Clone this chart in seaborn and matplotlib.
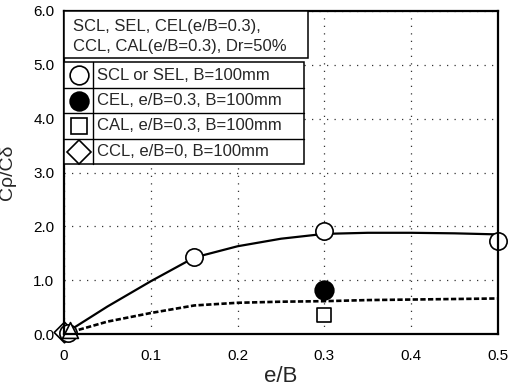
import matplotlib
matplotlib.use("Agg")
import matplotlib.pyplot as plt
from matplotlib.patches import Rectangle
import numpy as np
import pandas as pd
import seaborn as sns

# ---------------- data ----------------
scl_x = [0.005, 0.15, 0.30, 0.50]
scl_y = [0.02, 1.43, 1.92, 1.72]
cel_x = [0.30]
cel_y = [0.81]
cal_x = [0.30]
cal_y = [0.35]
ccl_x = [0.0]
ccl_y = [0.04]
tri_x = [0.007]
tri_y = [0.07]

fit_x = [0.0, 0.05, 0.10, 0.15, 0.20, 0.25, 0.30, 0.35, 0.40, 0.45, 0.50]
fit_solid_y = [0.0, 0.51, 0.98, 1.42, 1.63, 1.77, 1.86, 1.88, 1.88, 1.87, 1.85]
fit_dash_y = [0.0, 0.23, 0.39, 0.53, 0.58, 0.60, 0.61, 0.63, 0.64, 0.65, 0.66]

x_ticks = [0.0, 0.1, 0.2, 0.3, 0.4, 0.5]
x_ticklabels = ["0", "0.1", "0.2", "0.3", "0.4", "0.5"]
y_ticks = [0, 1, 2, 3, 4, 5, 6]
y_ticklabels = ["0.0", "1.0", "2.0", "3.0", "4.0", "5.0", "6.0"]

legend_title = ["SCL, SEL, CEL(e/B=0.3),", "CCL, CAL(e/B=0.3), Dr=50%"]
legend_labels = ["SCL or SEL, B=100mm", "CEL, e/B=0.3, B=100mm",
                 "CAL, e/B=0.3, B=100mm", "CCL, e/B=0, B=100mm"]

# ---------------- style ----------------
sns.set_theme(style="white")
plt.rcParams['font.family'] = ['Liberation Sans', 'DejaVu Sans']

W, H = 508, 391
fig = plt.figure(figsize=(W / 100, H / 100), dpi=100)
L, R, T, B = 64, 498, 11, 334
ax = fig.add_axes([L / W, 1 - B / H, (R - L) / W, (B - T) / H])

fit_df = pd.DataFrame({"x": fit_x, "solid": fit_solid_y, "dash": fit_dash_y})
sns.lineplot(data=fit_df, x="x", y="solid", ax=ax, color="black", lw=1.6,
             sort=False, zorder=3)
sns.lineplot(data=fit_df, x="x", y="dash", ax=ax, color="black", lw=1.9,
             sort=False, zorder=3, dashes=False)
ax.lines[-1].set_dashes((2.0, 0.9))

common = dict(ax=ax, clip_on=False, zorder=4, linewidth=1.2, edgecolor="black")
sns.scatterplot(x=ccl_x, y=ccl_y, marker="D", s=110, color="white", **common)
sns.scatterplot(x=scl_x, y=scl_y, marker="o", s=155, color="white", **common)
sns.scatterplot(x=tri_x, y=tri_y, marker="^", s=130, color="white", **common)
sns.scatterplot(x=cel_x, y=cel_y, marker="o", s=180, color="black", **common)
sns.scatterplot(x=cal_x, y=cal_y, marker="s", s=115, color="white", **common)

ax.set_xlim(0, 0.5)
ax.set_ylim(0, 6)
ax.set_xticks(x_ticks)
ax.set_xticklabels(x_ticklabels)
ax.set_yticks(y_ticks)
ax.set_yticklabels(y_ticklabels)
ax.tick_params(axis="both", length=0, labelsize=11, colors="black")
ax.tick_params(axis="x", pad=11)
ax.tick_params(axis="y", pad=7)

ax.grid(True, color="#333333", linestyle=(0, (1, 5)), linewidth=0.9)
for s in ax.spines.values():
    s.set_linewidth(1.6)
    s.set_color("black")
    s.set_zorder(6)

ax.set_xlabel("e/B", fontsize=16, labelpad=2)
ax.set_ylabel("Cρ/Cδ", fontsize=14, labelpad=12)

# ---------------- custom legend (two boxed tables) ----------------
def fx(px):
    return (px - L) / (R - L)

def fy(py):
    return (B - py) / (B - T)

def box(x0, y0, x1, y1):
    ax.add_patch(Rectangle((fx(x0), fy(y1)), fx(x1) - fx(x0), fy(y0) - fy(y1),
                           transform=ax.transAxes, facecolor="white",
                           edgecolor="black", lw=1.1, zorder=7, clip_on=False))

def hline(x0, x1, y):
    ax.plot([fx(x0), fx(x1)], [fy(y), fy(y)], transform=ax.transAxes,
            color="black", lw=1.0, zorder=8, clip_on=False)

def vline(x, y0, y1):
    ax.plot([fx(x), fx(x)], [fy(y0), fy(y1)], transform=ax.transAxes,
            color="black", lw=1.0, zorder=8, clip_on=False)

box(64, 11, 308, 58)
ax.text(fx(73), fy(26), legend_title[0], transform=ax.transAxes, fontsize=12,
        va="center", ha="left", zorder=9)
ax.text(fx(73), fy(47), legend_title[1], transform=ax.transAxes, fontsize=12,
        va="center", ha="left", zorder=9)

box(64, 62, 304, 164)
row_edges = [62, 88, 113, 139, 164]
for yy in row_edges[1:-1]:
    hline(64, 304, yy)
vline(93, 62, 164)

legend_markers = [("o", "white", 13.5), ("o", "black", 13.5),
                  ("s", "white", 11), ("D", "white", 12.5)]
for i, (lab, (mk, fc, ms)) in enumerate(zip(legend_labels, legend_markers)):
    yc = (row_edges[i] + row_edges[i + 1]) / 2
    ax.plot([fx(79)], [fy(yc)], transform=ax.transAxes, marker=mk, ms=ms,
            mfc=fc, mec="black", mew=1.2, ls="none", zorder=9, clip_on=False)
    ax.text(fx(97), fy(yc), lab, transform=ax.transAxes, fontsize=12,
            va="center", ha="left", zorder=9)

fig.savefig("out.png", dpi=100)
